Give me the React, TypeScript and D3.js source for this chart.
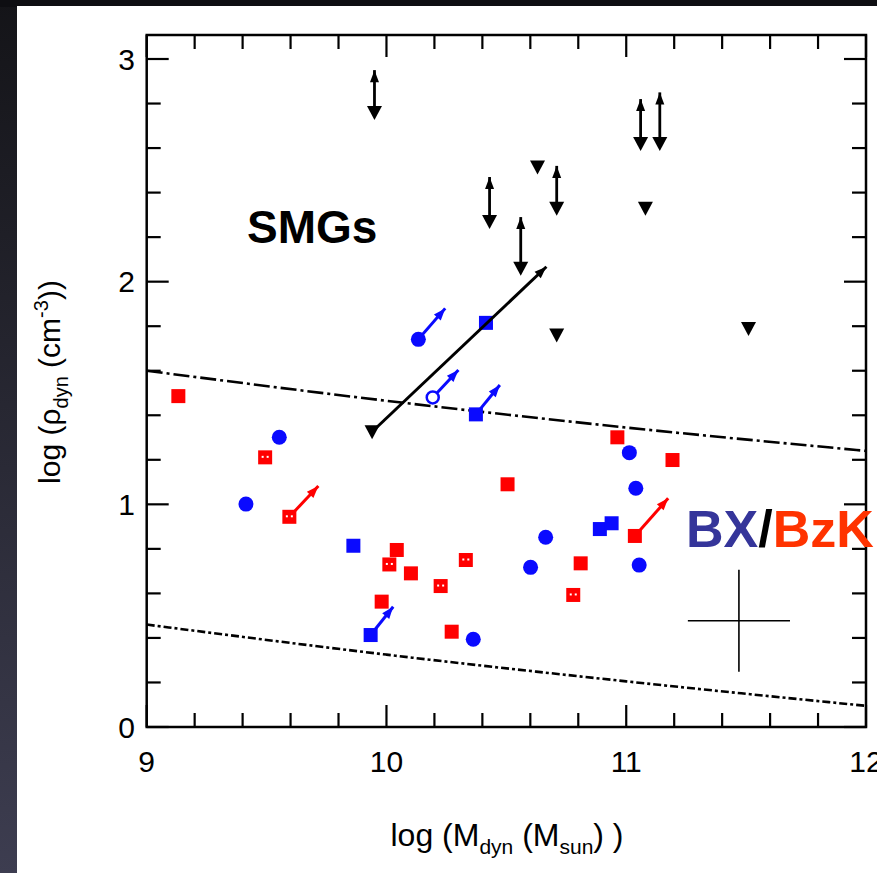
import React from "react";
import * as d3 from "d3";

const W = 877;
const H = 873;

// SMG upper limits with a range bar: [logM, rho at ▼, rho at top arrow]
const smgRanges = [
  [9.95, 2.76, 2.95],
  [10.43, 2.27, 2.47],
  [10.56, 2.06, 2.29],
  [10.71, 2.33, 2.52],
  [11.06, 2.62, 2.82],
  [11.14, 2.62, 2.85],
];
// SMG single upper limits (▼)
const smgLimits = [
  [10.63, 2.515],
  [11.08, 2.33],
  [10.71, 1.76],
  [11.51, 1.79],
  [9.94, 1.326],
];
// SMG shift arrows: [x0, y0, x1, y1]
const smgArrows = [[9.94, 1.326, 10.667, 2.067]];

// BX galaxies
const bxCircles = [
  [10.133, 1.741],
  [9.553, 1.301],
  [9.414, 1.001],
  [10.362, 0.394],
  [10.664, 0.852],
  [10.601, 0.717],
  [11.013, 1.232],
  [11.04, 1.072],
  [11.054, 0.727],
];
const bxOpenCircles = [[10.193, 1.48]];
const bxSquares = [
  [10.373, 1.404],
  [10.415, 1.815],
  [9.862, 0.814],
  [9.934, 0.413],
  [10.89, 0.889],
  [10.939, 0.915],
];
const bxArrows = [
  [10.133, 1.741, 10.245, 1.88],
  [10.193, 1.48, 10.3, 1.603],
  [10.373, 1.404, 10.473, 1.536],
  [9.934, 0.413, 10.028, 0.54],
];

// BzK galaxies
const bzkSquares = [
  [9.132, 1.486],
  [10.043, 0.795],
  [10.102, 0.69],
  [9.98, 0.563],
  [10.272, 0.428],
  [10.505, 1.09],
  [10.963, 1.301],
  [10.81, 0.735],
  [11.193, 1.199],
  [11.036, 0.858],
];
const bzkDotted = [
  [9.494, 1.211],
  [9.595, 0.944],
  [10.012, 0.73],
  [10.331, 0.75],
  [10.226, 0.633],
  [10.779, 0.593],
];
const bzkArrows = [
  [9.595, 0.944, 9.716, 1.082],
  [11.036, 0.858, 11.175, 1.027],
];

// dash-dot reference lines
const upperLine = [
  [9, 1.6],
  [10, 1.465],
  [11, 1.345],
  [12, 1.24],
];
const lowerLine = [
  [9, 0.46],
  [10, 0.325],
  [11, 0.205],
  [12, 0.095],
];

// typical error bar: [x, y, dx, dy]
const errorCross = [11.47, 0.477, 0.213, 0.229];

const xMajor = [9, 10, 11, 12];
const yMajor = [0, 1, 2, 3];

const BLUE = "#0a0aff";
const RED = "#ff0000";
const NARROW = "'Liberation Sans Narrow', 'Liberation Sans', Arial, sans-serif";
const SANS = "'Liberation Sans', Arial, sans-serif";

function arrowHead(x0: number, y0: number, x1: number, y1: number, len = 12, hw = 4.5) {
  const a = Math.atan2(y1 - y0, x1 - x0);
  const bx = x1 - len * Math.cos(a);
  const by = y1 - len * Math.sin(a);
  const px = -Math.sin(a) * hw;
  const py = Math.cos(a) * hw;
  return `M${x1},${y1}L${bx + px},${by + py}L${bx - px},${by - py}Z`;
}

export default function App() {
  const left = 146.7,
    right = 866,
    top = 35,
    bottom = 727;
  const x = d3.scaleLinear().domain([9, 12]).range([left, right]);
  const y = d3.scaleLinear().domain([0, 3]).range([bottom, 59]);

  const xMinor = d3.range(9, 12.001, 0.2).filter((v) => Math.abs(v - Math.round(v)) > 0.01);
  const yMinor = d3.range(0, 3.001, 0.2).filter((v) => Math.abs(v - Math.round(v)) > 0.01);
  const MAJ = 22,
    MIN = 14;

  const line = d3
    .line<number[]>()
    .x((d) => x(d[0]))
    .y((d) => y(d[1]))
    .curve(d3.curveMonotoneX);

  const tri = "M-7.5,-6.5L7.5,-6.5L0,7.5Z";

  const drawArrow = (a: number[], color: string, key: string) => {
    const [x0, y0, x1, y1] = [x(a[0]), y(a[1]), x(a[2]), y(a[3])];
    return (
      <g key={key}>
        <line x1={x0} y1={y0} x2={x1} y2={y1} stroke={color} strokeWidth={3} />
        <path d={arrowHead(x0, y0, x1, y1)} fill={color} />
      </g>
    );
  };

  return (
    <svg
      width={W}
      height={H}
      style={{ position: "absolute", left: 0, top: 0, display: "block" }}
    >
      <defs>
        <linearGradient id="bgside" x1="0" y1="0" x2="0" y2="1">
          <stop offset="0" stopColor="#141418" />
          <stop offset="1" stopColor="#3d3d50" />
        </linearGradient>
      </defs>
      <rect x={0} y={0} width={W} height={H} fill="url(#bgside)" />
      <rect x={0} y={0} width={W} height={7} fill="#0e0e12" />
      <rect x={17} y={6} width={W - 17} height={H - 6} fill="#fff" />

      {/* reference lines */}
      <path
        d={line(upperLine) || ""}
        fill="none"
        stroke="#000"
        strokeWidth={2.6}
        strokeDasharray="16,4,3,4"
      />
      <path
        d={line(lowerLine) || ""}
        fill="none"
        stroke="#000"
        strokeWidth={2.6}
        strokeDasharray="8,3,3,3"
      />

      {/* frame and ticks */}
      <rect
        x={left}
        y={top}
        width={right - left}
        height={bottom - top}
        fill="none"
        stroke="#000"
        strokeWidth={2.5}
      />
      <g stroke="#000" strokeWidth={2.2}>
        {xMajor.concat(xMinor).map((v, i) => {
          const len = xMajor.includes(v) ? MAJ : MIN;
          return (
            <g key={"xt" + i}>
              <line x1={x(v)} x2={x(v)} y1={bottom} y2={bottom - len} />
              <line x1={x(v)} x2={x(v)} y1={top} y2={top + len} />
            </g>
          );
        })}
        {yMajor.concat(yMinor).map((v, i) => {
          const len = yMajor.includes(v) ? MAJ : MIN;
          return (
            <g key={"yt" + i}>
              <line x1={left} x2={left + len} y1={y(v)} y2={y(v)} />
              <line x1={right} x2={right - len} y1={y(v)} y2={y(v)} />
            </g>
          );
        })}
      </g>
      <g fontFamily={NARROW} fontSize={30} fill="#000">
        {xMajor.map((v) => (
          <text key={"xl" + v} x={x(v)} y={772} textAnchor="middle">
            {v}
          </text>
        ))}
        {yMajor.map((v) => (
          <text key={"yl" + v} x={135} y={y(v)} dy="0.35em" textAnchor="end">
            {v}
          </text>
        ))}
      </g>

      {/* axis titles */}
      <text x={507} y={846} textAnchor="middle" fontFamily={NARROW} fontSize={32}>
        log (M
        <tspan fontSize={21} dy={8}>dyn</tspan>
        <tspan dy={-8}> (M</tspan>
        <tspan fontSize={21} dy={8}>sun</tspan>
        <tspan dy={-8}>) )</tspan>
      </text>
      <text
        transform="translate(60,382) rotate(-90)"
        textAnchor="middle"
        fontFamily={NARROW}
        fontSize={30}
      >
        log (ρ
        <tspan fontSize={20} dy={8}>dyn</tspan>
        <tspan dy={-8}> (cm</tspan>
        <tspan fontSize={20} dy={-12}>-3</tspan>
        <tspan dy={12}>))</tspan>
      </text>

      {/* error cross */}
      <g stroke="#000" strokeWidth={1.6}>
        <line
          x1={x(errorCross[0] - errorCross[2])}
          x2={x(errorCross[0] + errorCross[2])}
          y1={y(errorCross[1])}
          y2={y(errorCross[1])}
        />
        <line
          x1={x(errorCross[0])}
          x2={x(errorCross[0])}
          y1={y(errorCross[1] - errorCross[3])}
          y2={y(errorCross[1] + errorCross[3])}
        />
      </g>

      {/* BzK */}
      {bzkArrows.map((a, i) => drawArrow(a, RED, "ra" + i))}
      {bzkSquares.map((d, i) => (
        <rect key={"rs" + i} x={x(d[0]) - 7} y={y(d[1]) - 7} width={14} height={14} fill={RED} />
      ))}
      {bzkDotted.map((d, i) => (
        <g key={"rd" + i} transform={`translate(${x(d[0])},${y(d[1])})`}>
          <rect x={-7} y={-7} width={14} height={14} fill={RED} />
          <rect x={-3.5} y={-1.5} width={2} height={2} fill="#fff" />
          <rect x={1.5} y={-1.5} width={2} height={2} fill="#fff" />
        </g>
      ))}

      {/* BX */}
      {bxArrows.map((a, i) => drawArrow(a, BLUE, "ba" + i))}
      {bxCircles.map((d, i) => (
        <circle key={"bc" + i} cx={x(d[0])} cy={y(d[1])} r={7.5} fill={BLUE} />
      ))}
      {bxOpenCircles.map((d, i) => (
        <circle
          key={"bo" + i}
          cx={x(d[0])}
          cy={y(d[1])}
          r={6}
          fill="#fff"
          stroke={BLUE}
          strokeWidth={2.5}
        />
      ))}
      {bxSquares.map((d, i) => (
        <rect key={"bs" + i} x={x(d[0]) - 7} y={y(d[1]) - 7} width={14} height={14} fill={BLUE} />
      ))}

      {/* SMGs */}
      {smgArrows.map((a, i) => drawArrow(a, "#000", "sa" + i))}
      {smgRanges.map((d, i) => (
        <g key={"sr" + i}>
          <line x1={x(d[0])} x2={x(d[0])} y1={y(d[1])} y2={y(d[2])} stroke="#000" strokeWidth={2.8} />
          <path
            d={arrowHead(x(d[0]), y(d[1]), x(d[0]), y(d[2]), 12, 4.5)}
            fill="#000"
          />
          <path d={tri} transform={`translate(${x(d[0])},${y(d[1])})`} fill="#000" />
        </g>
      ))}
      {smgLimits.map((d, i) => (
        <path key={"sl" + i} d={tri} transform={`translate(${x(d[0])},${y(d[1])})`} fill="#000" />
      ))}

      {/* labels */}
      <text x={247} y={243} fontFamily={SANS} fontWeight="bold" fontSize={46} fill="#000">
        SMGs
      </text>
      <text x={686} y={547} fontFamily={SANS} fontWeight="bold" fontSize={52}>
        <tspan fill="#35359a">BX</tspan>
        <tspan fill="#000">/</tspan>
        <tspan fill="#ff3300">BzK</tspan>
      </text>
    </svg>
  );
}
